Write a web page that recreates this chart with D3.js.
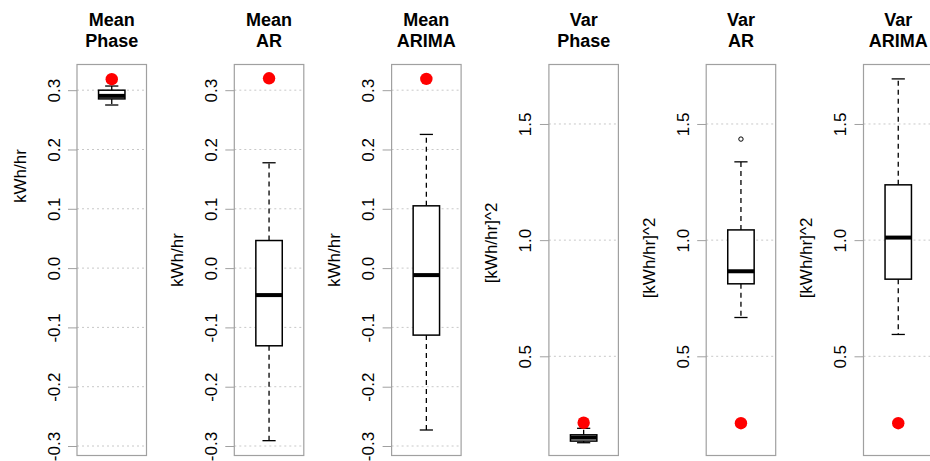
<!DOCTYPE html>
<html><head><meta charset="utf-8">
<script src="https://cdn.jsdelivr.net/npm/d3@7"></script>
<style>body{margin:0;background:#fff}svg{display:block}text{font-family:"Liberation Sans",Arial,Helvetica,sans-serif}</style>
</head><body>
<svg id="c" width="930" height="461"></svg>
<script>
// ---- data ----
const titleTop = ["Mean","Mean","Mean","Var","Var","Var"];
const titleBottom = ["Phase","AR","ARIMA","Phase","AR","ARIMA"];
const yLabels = ["kWh/hr","kWh/hr","kWh/hr","[kWh/hr]^2","[kWh/hr]^2","[kWh/hr]^2"];
const lowerWhisker = [0.275, -0.291, -0.273, 0.128, 0.667, 0.594];
const q1Values     = [0.2853, -0.131, -0.113, 0.135, 0.812, 0.832];
const medianValues = [0.2904, -0.0455, -0.0118, 0.150, 0.866, 1.011];
const q3Values     = [0.300, 0.0465, 0.105, 0.162, 1.044, 1.238];
const upperWhisker = [0.307, 0.1776, 0.2254, 0.19, 1.337, 1.694];
const trueValues   = [0.3185, 0.320, 0.319, 0.214, 0.212, 0.212];
const outliers     = [[], [], [], [], [1.435], []];
const meanTicks = [-0.3,-0.2,-0.1,0.0,0.1,0.2,0.3];
const varTicks = [0.5,1.0,1.5];
const meanDomain = [-0.316, 0.3433];
const varDomain = [0.073, 1.756];
const labelYCenter = [176, 260, 260, 243, 258, 258];

// ---- layout ----
const svg = d3.select("#c");
const plotTop = 64.5, plotBottom = 455.5, pw = 69.5;
const grey = "#a0a0a0";

for (let i = 0; i < 6; i++) {
  const left = 77 + 157.3 * i;
  const isMean = i < 3;
  const y = d3.scaleLinear().domain(isMean ? meanDomain : varDomain).range([plotBottom, plotTop]);
  const x = d3.scaleLinear().domain([0.5, 1.5]).range([left, left + pw]);
  const ticks = isMean ? meanTicks : varTicks;
  const g = svg.append("g");

  // grid
  g.selectAll("line.grid").data(ticks).enter().append("line")
    .attr("x1", left).attr("x2", left + pw)
    .attr("y1", d => y(d)).attr("y2", d => y(d))
    .attr("stroke", "#c8c8c8").attr("stroke-width", 1).attr("stroke-dasharray", "2,3");

  // axis
  const axis = d3.axisLeft(y).tickValues(ticks).tickSize(9).tickPadding(0)
    .tickFormat(d => d3.format(".1f")(d).replace("\u2212", "-"));
  const ag = g.append("g").attr("transform", `translate(${left},0)`).call(axis);
  ag.select(".domain").remove();
  ag.selectAll(".tick line").attr("stroke", grey);
  ag.selectAll(".tick text")
    .attr("x", 0).attr("dy", null)
    .attr("transform", "translate(-23,0) rotate(-90)")
    .attr("text-anchor", "middle").attr("dominant-baseline", "central")
    .attr("font-size", 17).attr("fill", "#000");

  // plot border
  g.append("rect").attr("x", left).attr("y", plotTop).attr("width", pw).attr("height", plotBottom - plotTop)
    .attr("fill", "none").attr("stroke", grey).attr("stroke-width", 1.2);

  // whiskers
  g.append("line").attr("x1", x(1)).attr("x2", x(1)).attr("y1", y(q3Values[i])).attr("y2", y(upperWhisker[i]))
    .attr("stroke", "#000").attr("stroke-width", 1.3).attr("stroke-dasharray", "5,4");
  g.append("line").attr("x1", x(1)).attr("x2", x(1)).attr("y1", y(q1Values[i])).attr("y2", y(lowerWhisker[i]))
    .attr("stroke", "#000").attr("stroke-width", 1.3).attr("stroke-dasharray", "5,4");
  [upperWhisker[i], lowerWhisker[i]].forEach(v => {
    g.append("line").attr("x1", x(0.905)).attr("x2", x(1.095)).attr("y1", y(v)).attr("y2", y(v))
      .attr("stroke", "#000").attr("stroke-width", 1.3);
  });
  // box
  g.append("rect").attr("x", x(0.81)).attr("width", x(1.19) - x(0.81))
    .attr("y", y(q3Values[i])).attr("height", y(q1Values[i]) - y(q3Values[i]))
    .attr("fill", "#fff").attr("stroke", "#000").attr("stroke-width", 1.5);
  g.append("line").attr("x1", x(0.81)).attr("x2", x(1.19))
    .attr("y1", y(medianValues[i])).attr("y2", y(medianValues[i]))
    .attr("stroke", "#000").attr("stroke-width", 4);
  // outliers
  g.selectAll("circle.out").data(outliers[i]).enter().append("circle")
    .attr("cx", x(1)).attr("cy", d => y(d)).attr("r", 2.2)
    .attr("fill", "none").attr("stroke", "#000").attr("stroke-width", 1);
  // true value
  g.append("circle").attr("cx", x(1)).attr("cy", y(trueValues[i])).attr("r", 6.2).attr("fill", "#ff0000");

  // titles
  const cx = left + pw / 2;
  g.append("text").attr("x", cx).attr("y", 25.7).attr("text-anchor", "middle")
    .attr("font-size", 18).attr("font-weight", "bold").text(titleTop[i]);
  g.append("text").attr("x", cx).attr("y", 46.7).attr("text-anchor", "middle")
    .attr("font-size", 18).attr("font-weight", "bold").text(titleBottom[i]);
  // y label
  g.append("text").attr("transform", `translate(${left - 57},${labelYCenter[i]}) rotate(-90)`)
    .attr("text-anchor", "middle").attr("dominant-baseline", "central")
    .attr("font-size", 17).text(yLabels[i]);
}
</script>
</body></html>
